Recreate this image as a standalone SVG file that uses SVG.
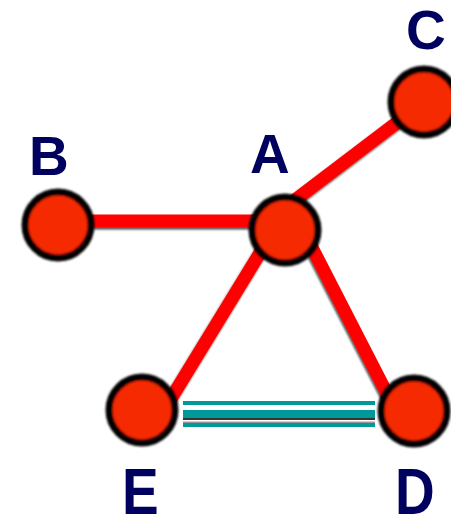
<svg xmlns="http://www.w3.org/2000/svg" width="451" height="520" viewBox="0 0 451 520">
<defs>
<style>
.edge{stroke:#ff0000;stroke-width:13;fill:none}
.link{stroke:#009999;fill:none}
.node{fill:#f52a00;stroke:#000;stroke-width:7}
.lbl{font-family:"Liberation Sans",Arial,sans-serif;font-weight:bold;font-size:55px;fill:#00005f}
</style>
<filter id="soft" x="-20%" y="-20%" width="140%" height="140%"><feGaussianBlur stdDeviation="1"/></filter>
<filter id="shadow" x="-10%" y="-10%" width="120%" height="120%">
<feGaussianBlur in="SourceAlpha" stdDeviation="1.2"/>
<feOffset dx="-1" dy="1.5" result="s"/>
<feComponentTransfer><feFuncA type="linear" slope="0.7"/></feComponentTransfer>
<feMerge><feMergeNode/><feMergeNode in="SourceGraphic"/></feMerge>
</filter>
</defs>
<rect width="451" height="520" fill="#fff"/>
<g id="connectors">
<g filter="url(#shadow)">
<line class="edge" x1="60" y1="221" x2="285" y2="221"/>
<line class="edge" x1="295" y1="200" x2="424" y2="102"/>
<line class="edge" x1="274" y1="230" x2="164" y2="410"/>
<line class="edge" x1="303" y1="230" x2="396" y2="411"/>
</g>
<g id="E-D">
<line x1="183" y1="423" x2="375" y2="423" stroke="#999" stroke-width="3"/>
<line class="link" x1="183" y1="403" x2="375" y2="403" stroke-width="4"/>
<line class="link" x1="183" y1="414" x2="375" y2="414" stroke-width="8"/>
<line x1="183" y1="419" x2="375" y2="419" stroke="#333" stroke-width="2"/>
<line class="link" x1="183" y1="425" x2="375" y2="425" stroke-width="4"/>
</g>
</g>
<g id="A"><circle class="node" cx="285" cy="230" r="33" filter="url(#soft)"/><text class="lbl" x="250" y="173">A</text></g>
<g id="B"><circle class="node" cx="58" cy="225" r="33" filter="url(#soft)"/><text class="lbl" x="29" y="175">B</text></g>
<g id="C"><circle class="node" cx="424" cy="102" r="33" filter="url(#soft)"/><text class="lbl" x="406" y="49">C</text></g>
<g id="D"><circle class="node" cx="414" cy="411" r="33" filter="url(#soft)"/><text class="lbl" transform="translate(395,514) scale(1,1.17)">D</text></g>
<g id="E"><circle class="node" cx="142" cy="410" r="33" filter="url(#soft)"/><text class="lbl" transform="translate(122,514) scale(1,1.17)">E</text></g>
</svg>
